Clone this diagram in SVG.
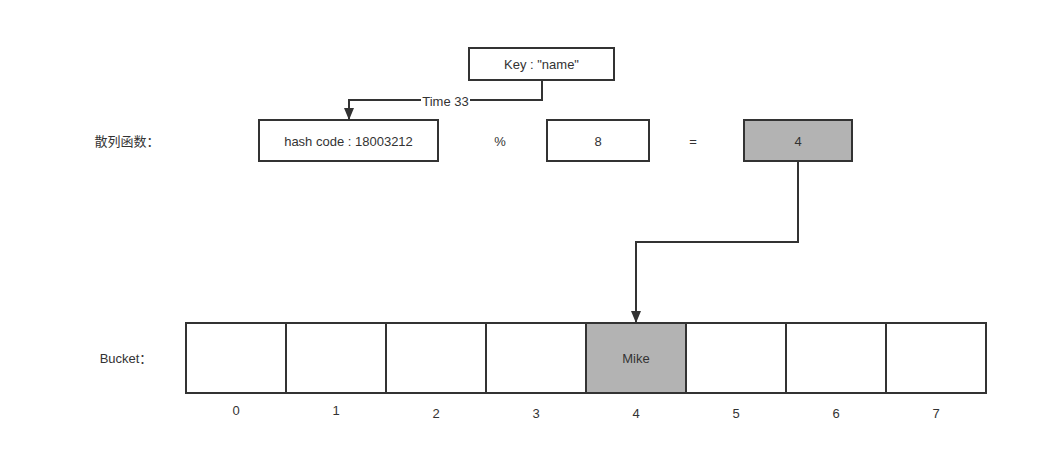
<svg xmlns="http://www.w3.org/2000/svg" width="1048" height="465" viewBox="0 0 1048 465">
<style>
.box{fill:#fff;stroke:#333;stroke-width:2}
.gray{fill:#b3b3b3;stroke:#333;stroke-width:2}
text{font-family:"Liberation Sans","Noto Sans CJK SC",sans-serif;font-size:13px;fill:#333;text-anchor:middle;dominant-baseline:central}
.edge{fill:none;stroke:#333;stroke-width:2}
</style>
<defs>
<marker id="arr" viewBox="0 0 12 10" refX="12" refY="5" markerWidth="12" markerHeight="10" orient="auto" markerUnits="userSpaceOnUse">
<path d="M0,0 L12,5 L0,10 z" fill="#333"/>
</marker>
</defs>
<rect width="1048" height="465" fill="#fff"/>
<g id="label-hash"><text x="127" y="141">散列函数：</text></g>
<g id="label-bucket"><text x="126" y="358">Bucket：</text></g>
<g id="key"><rect class="box" x="469" y="48" width="145" height="32"/><text x="541.5" y="64">Key : "name"</text></g>
<g id="hashcode"><rect class="box" x="259" y="120" width="179" height="41"/><text x="348.5" y="141">hash code : 18003212</text></g>
<g id="mod"><text x="500" y="141">%</text></g>
<g id="eight"><rect class="box" x="547" y="120" width="102" height="41"/><text x="598" y="141">8</text></g>
<g id="eq"><text x="693" y="141">=</text></g>
<g id="result"><rect class="gray" x="744" y="120" width="108" height="41"/><text x="798" y="141">4</text></g>
<g id="buckets">
<rect class="box" x="186" y="323" width="100" height="70"/>
<rect class="box" x="286" y="323" width="100" height="70"/>
<rect class="box" x="386" y="323" width="100" height="70"/>
<rect class="box" x="486" y="323" width="100" height="70"/>
<rect class="gray" x="586" y="323" width="100" height="70"/>
<rect class="box" x="686" y="323" width="100" height="70"/>
<rect class="box" x="786" y="323" width="100" height="70"/>
<rect class="box" x="886" y="323" width="100" height="70"/>
<text x="636" y="358">Mike</text>
<text x="236" y="410">0</text>
<text x="336" y="410">1</text>
<text x="436" y="413">2</text>
<text x="536" y="413">3</text>
<text x="636" y="413">4</text>
<text x="736" y="413">5</text>
<text x="836" y="413">6</text>
<text x="936" y="413">7</text>
</g>
<g id="connectors">
<path class="edge" d="M542,80 V100 H349 V120" marker-end="url(#arr)"/>
<rect x="421" y="94" width="49" height="14" fill="#fff"/>
<text x="445.5" y="101">Time 33</text>
<path class="edge" d="M798,161 V242 H636 V323" marker-end="url(#arr)"/>
</g>
</svg>
